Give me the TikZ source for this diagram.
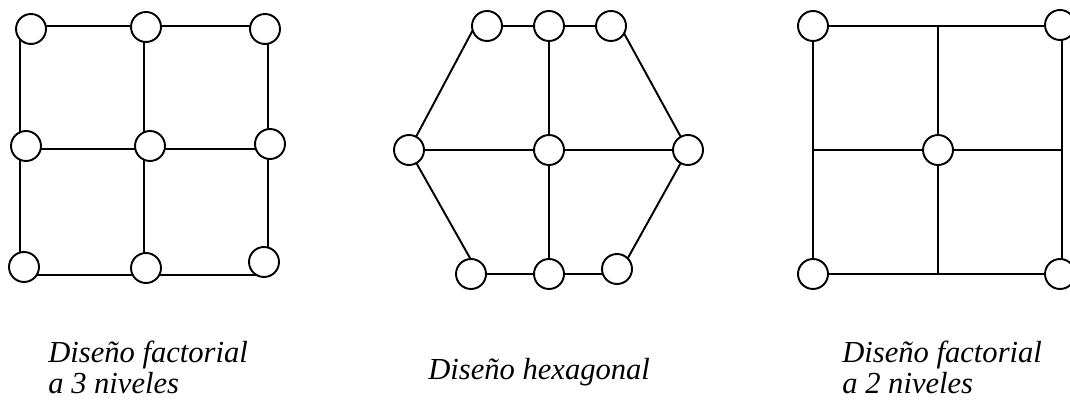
\documentclass[tikz,border=0pt]{standalone}
\usepackage{fontspec}
\setmainfont{Liberation Serif}
\usepackage{tikz}
\tikzset{punto/.style={draw, circle, fill=white, line width=1.1pt, minimum size=0.6cm, inner sep=0pt},
arista/.style={line width=1.1pt},
rotulo/.style={align=left, inner sep=0pt, anchor=base west, font=\itshape\fontsize{17.4}{17.6}\selectfont}}

\begin{document}
\begin{tikzpicture}[x=0.02cm, y=-0.02cm]
  \useasboundingbox (0,0) rectangle (1070,401);
  % Factorial a 3 niveles
  \coordinate (a11) at (20,26);  \coordinate (a12) at (144,26);  \coordinate (a13) at (268,26);
  \coordinate (a21) at (20,149); \coordinate (a22) at (144,149); \coordinate (a23) at (268,149);
  \coordinate (a31) at (20,275); \coordinate (a32) at (144,275); \coordinate (a33) at (268,275);
  \draw[arista] (a11) -- (a13) (a21) -- (a23) (a31) -- (a33)
    (a11) -- (a31) (a12) -- (a32) (a13) -- (a33);
  \node[punto] (p11) at (31,29) {};  \node[punto] (p12) at (146,27) {};  \node[punto] (p13) at (265,29) {};
  \node[punto] (p21) at (26,146) {}; \node[punto] (p22) at (150,146) {}; \node[punto] (p23) at (270,144) {};
  \node[punto] (p31) at (24,267) {}; \node[punto] (p32) at (146,268) {}; \node[punto] (p33) at (264,262) {};
  \node[rotulo] (t1) at (48,393) {Diseño factorial\\a 3 niveles};
  % Hexagonal
  \coordinate (h1) at (475,26);  \coordinate (h2) at (549,26);  \coordinate (h3) at (620,26);
  \coordinate (h4) at (409,150); \coordinate (h5) at (549,150); \coordinate (h6) at (688,150);
  \coordinate (h7) at (479,274); \coordinate (h8) at (549,274); \coordinate (h9) at (619,274);
  \draw[arista] (h1) -- (h3) -- (h6) -- (h9) -- (h7) -- (h4) -- cycle
    (h4) -- (h6) (h2) -- (h8);
  \node[punto] (q1) at (487,26) {};  \node[punto] (q2) at (549,26) {};  \node[punto] (q3) at (611,26) {};
  \node[punto] (q4) at (409,150) {}; \node[punto] (q5) at (549,150) {}; \node[punto] (q6) at (688,150) {};
  \node[punto] (q7) at (471,274) {}; \node[punto] (q8) at (549,274) {}; \node[punto] (q9) at (617,269) {};
  \node[rotulo] (t2) at (428,379) {Diseño hexagonal};
  % Factorial a 2 niveles
  \coordinate (f11) at (813,26);  \coordinate (f12) at (938,26);  \coordinate (f13) at (1062,26);
  \coordinate (f21) at (813,150); \coordinate (f22) at (938,150); \coordinate (f23) at (1062,150);
  \coordinate (f31) at (813,274); \coordinate (f32) at (938,274); \coordinate (f33) at (1062,274);
  \draw[arista] (f11) -- (f13) (f21) -- (f23) (f31) -- (f33)
    (f11) -- (f31) (f12) -- (f32) (f13) -- (f33);
  \node[punto] (r1) at (813,26) {};  \node[punto] (r2) at (1060,25) {};
  \node[punto] (r3) at (938,150) {};
  \node[punto] (r4) at (813,274) {}; \node[punto] (r5) at (1060,274) {};
  \node[rotulo] (t3) at (842,393) {Diseño factorial\\a 2 niveles};
\end{tikzpicture}
\end{document}
